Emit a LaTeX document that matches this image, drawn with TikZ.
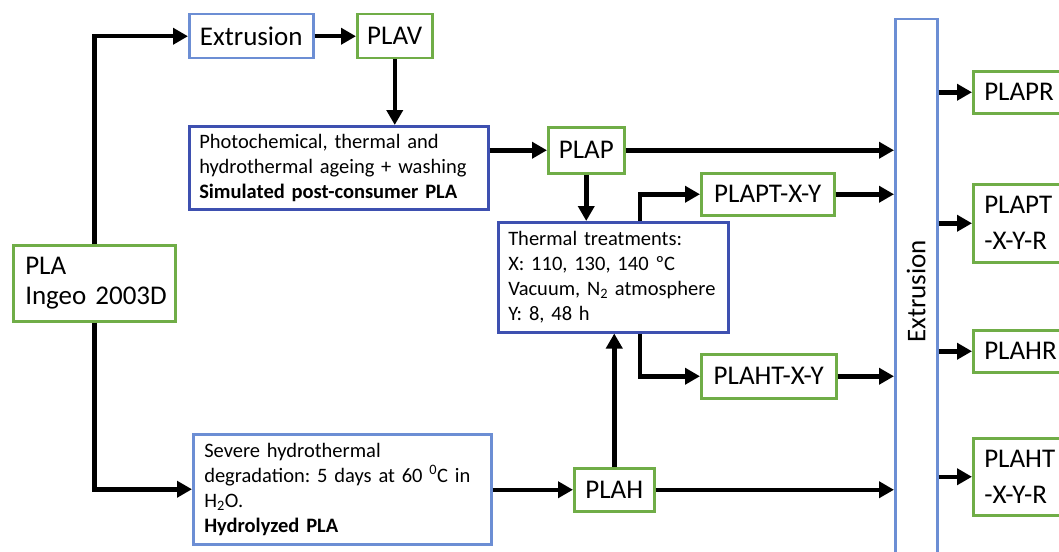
\documentclass[tikz,border=0pt]{standalone}
\usepackage{fontspec}
\setmainfont{Carlito}
\frenchspacing
\usetikzlibrary{arrows.meta,calc}
\definecolor{lblue}{RGB}{108,142,212}
\definecolor{dblue}{RGB}{62,80,176}
\definecolor{gboxc}{RGB}{112,173,71}
\tikzset{
  box/.style={draw, line width=2.5pt, fill=white, inner sep=0pt},
  gbox/.style={box, draw=gboxc},
  lbox/.style={box, draw=lblue},
  dbox/.style={box, draw=dblue},
  big/.style={font=\fontsize{27}{30}\selectfont},
  bigtwo/.style={font=\fontsize{27}{36}\selectfont},
  small/.style={font=\fontsize{20.5}{25}\selectfont},
  arr/.style={line width=4.5pt, -{Triangle[length=15pt,width=16pt]}},
}
\begin{document}
\begin{tikzpicture}[x=1pt,y=-1pt]
\clip (0,0) rectangle (1059,551);
\fill[white] (0,0) rectangle (1059,551);
% left
\node[gbox, big, anchor=north west, minimum width=162pt, minimum height=76pt,
      text width=148pt, inner xsep=7pt, align=left] (pla) at (12,244) {\hspace*{5pt}PLA\\\hspace*{5pt}Ingeo 2003D};
\node[lbox, big, anchor=north west, minimum width=124pt, minimum height=44pt] (extr) at (188,13) {Extrusion};
\node[gbox, big, anchor=north west, minimum width=75pt, minimum height=44pt] (plav) at (356,13) {PLAV};
\node[dbox, small, anchor=north west, minimum height=83pt, text width=279pt,
      inner xsep=10pt, align=left] (photo) at (188,125)
  {Photochemical, thermal and\\hydrothermal ageing + washing\\\textbf{Simulated post-consumer PLA}};
\node[gbox, big, anchor=north west, minimum width=76pt, minimum height=46pt] (plap) at (547,126) {PLAP};
\node[dbox, small, anchor=north west, minimum height=110pt, text width=210pt,
      inner xsep=10pt, align=left] (therm) at (497,221)
  {Thermal treatments:\\X: 110, 130, 140 ºC\\Vacuum, N\textsubscript{2} atmosphere\\Y: 8, 48 h};
\node[gbox, big, anchor=north west, minimum width=133pt, minimum height=42pt] (plapt) at (700,172) {PLAPT-X-Y};
\node[gbox, big, anchor=north west, minimum width=135pt, minimum height=44pt] (plaht) at (700,353) {PLAHT-X-Y};
\node[lbox, small, anchor=north west, minimum height=110pt, text width=276pt,
      inner xsep=11pt, align=left] (hydro) at (192,433)
  {Severe hydrothermal\\degradation: 5 days at 60 \textsuperscript{0}C in\\H\textsubscript{2}O.\\\textbf{Hydrolyzed PLA}};
\node[gbox, big, anchor=north west, minimum width=80pt, minimum height=43pt] (plah) at (573,467) {PLAH};
% extrusion column
\node[lbox, anchor=north west, minimum width=42pt, minimum height=544pt] (col) at (894,18) {};
\node[big, rotate=90] (coltext) at (col.center) {Extrusion};
% outputs
\node[gbox, big, anchor=north west, minimum height=42pt, text width=100pt,
      inner xsep=11pt, align=left] (o1) at (972,70) {PLAPR};
\node[gbox, bigtwo, anchor=north west, minimum height=78pt, text width=100pt,
      inner xsep=11pt, align=left] (o2) at (972,183) {PLAPT\\-X-Y-R};
\node[gbox, big, anchor=north west, minimum height=42pt, text width=100pt,
      inner xsep=11pt, align=left] (o3) at (972,329) {PLAHR};
\node[gbox, bigtwo, anchor=north west, minimum height=77pt, text width=100pt,
      inner xsep=11pt, align=left] (o4) at (972,437) {PLAHT\\-X-Y-R};
% connectors
\draw[arr] (pla.north) |- (extr.west);
\draw[arr] (pla.south) |- (hydro.west);
\draw[arr] (extr.east) -- (plav.west);
\draw[arr] (plav.south) -- (plav.south |- photo.north);
\draw[arr] (plap.west -| photo.east) -- (plap.west);
\draw[arr] (plap.east) -- (plap.east -| col.west);
\draw[arr] (plap.south) -- (plap.south |- therm.north);
\draw[arr] ([xshift=143pt]therm.north west) |- (plapt.west);
\draw[arr] ([xshift=143pt]therm.south west) |- (plaht.west);
\draw[arr] (plapt.east) -- (plapt.east -| col.west);
\draw[arr] (plaht.east) -- (plaht.east -| col.west);
\draw[arr] (plah.west -| hydro.east) -- (plah.west);
\draw[arr] (plah.north) -- (plah.north |- therm.south);
\draw[arr] (plah.east) -- (plah.east -| col.west);
\draw[arr] (o1.west -| col.east) -- (o1.west);
\draw[arr] (o2.west -| col.east) -- (o2.west);
\draw[arr] (o3.west -| col.east) -- (o3.west);
\draw[arr] (o4.west -| col.east) -- (o4.west);
\end{tikzpicture}
\end{document}
